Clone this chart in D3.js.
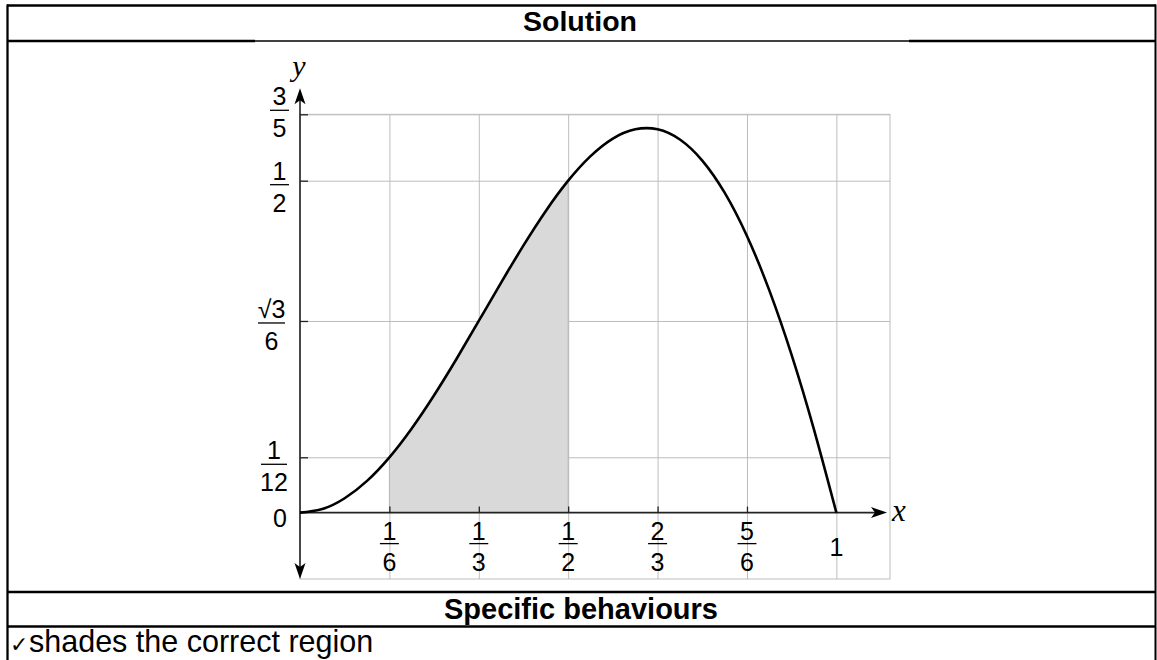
<!DOCTYPE html>
<html>
<head>
<meta charset="utf-8">
<script src="https://cdn.jsdelivr.net/npm/d3@7"></script>
<style>
  body { margin: 0; background: #fff; }
  text { font-family: "Liberation Sans", Arial, sans-serif; }
  text.var { font-family: "Liberation Serif", "Times New Roman", serif; font-style: italic; }
  text.tick { font-family: "DejaVu Sans", sans-serif; }
</style>
</head>
<body>
<div id="output"></div>
<script>
var w = 1157;
var h = 660;

// curve
var curveX = [0, 0.0417, 0.0833, 0.125, 0.1667, 0.2083, 0.25, 0.2917, 0.3333, 0.375, 0.4167, 0.4583, 0.5,
              0.5417, 0.5833, 0.625, 0.6667, 0.7083, 0.75, 0.7917, 0.8333, 0.875, 0.9167, 0.9583, 1];
var curveY = [0, 0.0054, 0.0216, 0.0478, 0.0833, 0.1268, 0.1768, 0.2314, 0.2887, 0.3465, 0.4025, 0.4544, 0.5,
              0.5370, 0.5635, 0.5774, 0.5774, 0.5620, 0.5303, 0.4819, 0.4167, 0.3348, 0.2373, 0.1251, 0];

var shadeFrom = 1 / 6;
var shadeTo = 1 / 2;

// ticks
var xTicks = [1/6, 1/3, 1/2, 2/3, 5/6, 1];
var xNum = ["1", "1", "1", "2", "5", "1"];
var xDen = ["6", "3", "2", "3", "6", ""];
var yTicks = [3/5, 1/2, Math.sqrt(3)/6, 1/12];
var yNum = ["3", "1", "\u221A3", "1"];
var yDen = ["5", "2", "6", "12"];

// little nudges for the stacked labels
var yBarShift = [-4, 4, 2, 7];
var yLabelCx = [279.5, 279.5, 271.5, 274];
var yBarWidth = [19, 19, 27, 26];

var svg = d3.select("#output")
            .append("svg")
            .attr("width", w)
            .attr("height", h);

svg.append("rect").attr("width", w).attr("height", h).attr("fill", "white");

var x = d3.scaleLinear().domain([0, 1.1]).range([300, 890]);
var y = d3.scaleLinear().domain([-0.1, 0.6]).range([579, 114.3]);

// grid
var gridColor = "#bdbdbd";
var grid = svg.append("g");

grid.append("g")
    .attr("transform", "translate(" + x(0) + ",0)")
    .call(d3.axisLeft(y).tickValues(yTicks).tickSize(-(x(1.1) - x(0))).tickFormat(""))
    .call(function(g) { g.select(".domain").remove(); })
    .selectAll("line").attr("stroke", gridColor);

grid.append("g")
    .attr("transform", "translate(0," + y(-0.1) + ")")
    .call(d3.axisBottom(x).tickValues(xTicks).tickSize(-(y(-0.1) - y(0.6))).tickFormat(""))
    .call(function(g) { g.select(".domain").remove(); })
    .selectAll("line").attr("stroke", gridColor);

grid.append("rect")
    .attr("x", x(0))
    .attr("y", y(0.6))
    .attr("width", x(1.1) - x(0))
    .attr("height", y(-0.1) - y(0.6))
    .attr("fill", "none")
    .attr("stroke", gridColor);

// shaded region
var pts = curveX.map(function(d, i) { return [d, curveY[i]]; });
var shadePts = pts.filter(function(d) { return d[0] >= shadeFrom - 0.001 && d[0] <= shadeTo + 0.001; });

var area = d3.area()
    .x(function(d) { return x(d[0]); })
    .y0(y(0))
    .y1(function(d) { return y(d[1]); })
    .curve(d3.curveNatural);

svg.append("path")
   .datum(shadePts)
   .attr("d", area)
   .attr("fill", "#d9d9d9")
   .attr("stroke", "#b5b5b5")
   .attr("stroke-width", 1);

// axes
var axisColor = "#222";

svg.append("g")
   .attr("transform", "translate(" + x(0) + ",0)")
   .call(d3.axisRight(y).tickValues(yTicks).tickSize(8).tickFormat(""))
   .call(function(g) { g.select(".domain").remove(); })
   .selectAll("line").attr("stroke", axisColor).attr("stroke-width", 1.3);

svg.append("g")
   .attr("transform", "translate(0," + y(0) + ")")
   .call(d3.axisTop(x).tickValues(xTicks.slice(0, 5)).tickSize(6).tickFormat(""))
   .call(function(g) { g.select(".domain").remove(); })
   .selectAll("line").attr("stroke", axisColor).attr("stroke-width", 1.3);

var yTop = y(0.6) - 26;
var yBot = y(-0.1);
var xEnd = x(1.1) - 3;

svg.append("line")
   .attr("x1", x(0)).attr("x2", x(0))
   .attr("y1", yTop + 6).attr("y2", yBot - 6)
   .attr("stroke", axisColor).attr("stroke-width", 1.6);

svg.append("line")
   .attr("x1", x(0)).attr("x2", xEnd - 6)
   .attr("y1", y(0)).attr("y2", y(0))
   .attr("stroke", axisColor).attr("stroke-width", 1.6);

var arrow = "M0,0 L-5.5,16 L0,12 L5.5,16 Z";
svg.append("path").attr("d", arrow).attr("fill", "#000")
   .attr("transform", "translate(" + x(0) + "," + yTop + ")");
svg.append("path").attr("d", arrow).attr("fill", "#000")
   .attr("transform", "translate(" + x(0) + "," + yBot + ") rotate(180)");
svg.append("path").attr("d", arrow).attr("fill", "#000")
   .attr("transform", "translate(" + xEnd + "," + y(0) + ") rotate(90)");

// curve
var line = d3.line()
    .x(function(d) { return x(d[0]); })
    .y(function(d) { return y(d[1]); })
    .curve(d3.curveNatural);

svg.append("path")
   .datum(pts)
   .attr("d", line)
   .attr("fill", "none")
   .attr("stroke", "#000")
   .attr("stroke-width", 2.6);

// y tick labels
var fs = 25;
var yl = svg.selectAll("g.ylab")
   .data(yTicks)
   .enter()
   .append("g")
   .attr("class", "ylab");

yl.append("text")
  .attr("x", function(d, i) { return yLabelCx[i]; })
  .attr("y", function(d, i) { return y(d) + yBarShift[i] - 5; })
  .attr("text-anchor", "middle")
  .attr("font-size", fs)
  .text(function(d, i) { return yNum[i]; });

yl.append("line")
  .attr("x1", function(d, i) { return yLabelCx[i] - yBarWidth[i] / 2; })
  .attr("x2", function(d, i) { return yLabelCx[i] + yBarWidth[i] / 2; })
  .attr("y1", function(d, i) { return y(d) + yBarShift[i]; })
  .attr("y2", function(d, i) { return y(d) + yBarShift[i]; })
  .attr("stroke", "#000")
  .attr("stroke-width", 1.3);

yl.append("text")
  .attr("x", function(d, i) { return yLabelCx[i]; })
  .attr("y", function(d, i) { return y(d) + yBarShift[i] + 27; })
  .attr("text-anchor", "middle")
  .attr("font-size", fs)
  .text(function(d, i) { return yDen[i]; });

svg.append("text")
   .attr("x", 280).attr("y", y(0) + 14)
   .attr("text-anchor", "middle")
   .attr("font-size", fs)
   .text("0");

// x tick labels
var barY = y(0) + 31;
var xl = svg.selectAll("g.xlab")
   .data(xTicks)
   .enter()
   .append("g")
   .attr("class", "xlab");

xl.append("text")
  .attr("x", function(d) { return x(d); })
  .attr("y", function(d, i) { return xDen[i] ? barY - 4 : barY + 12; })
  .attr("text-anchor", "middle")
  .attr("font-size", fs)
  .text(function(d, i) { return xNum[i]; });

xl.filter(function(d, i) { return xDen[i]; })
  .append("line")
  .attr("x1", function(d) { return x(d) - 9.5; })
  .attr("x2", function(d) { return x(d) + 9.5; })
  .attr("y1", barY).attr("y2", barY)
  .attr("stroke", "#000")
  .attr("stroke-width", 1.3);

xl.append("text")
  .attr("x", function(d) { return x(d); })
  .attr("y", barY + 27)
  .attr("text-anchor", "middle")
  .attr("font-size", fs)
  .text(function(d, i) { return xDen[i]; });

// axis names
svg.append("text")
   .attr("class", "var")
   .attr("x", 299).attr("y", 76)
   .attr("text-anchor", "middle")
   .attr("font-size", 30)
   .text("y");

svg.append("text")
   .attr("class", "var")
   .attr("x", 892).attr("y", y(0) + 8)
   .attr("font-size", 31)
   .text("x");

// table frame
function rule(x1, y1, x2, y2, sw) {
  svg.append("line")
     .attr("x1", x1).attr("y1", y1).attr("x2", x2).attr("y2", y2)
     .attr("stroke", "#000").attr("stroke-width", sw);
}
rule(7, 5.5, 1156, 5.5, 2.3);
rule(7.5, 4.5, 7.5, 660, 2.3);
rule(1155.5, 4.5, 1155.5, 660, 2);
rule(7, 41, 255, 41, 2.3);
rule(255, 41, 909, 41, 1.3);
rule(909, 41, 1156, 41, 2.3);
rule(7, 592, 1156, 592, 2.3);
rule(7, 626.5, 1156, 626.5, 2.3);

svg.append("text")
   .attr("x", 580).attr("y", 31)
   .attr("text-anchor", "middle")
   .attr("font-size", 28.5)
   .attr("font-weight", "bold")
   .text("Solution");

svg.append("text")
   .attr("x", 581).attr("y", 619)
   .attr("text-anchor", "middle")
   .attr("font-size", 29)
   .attr("font-weight", "bold")
   .text("Specific behaviours");

svg.append("text")
   .attr("class", "tick")
   .attr("x", 10).attr("y", 652)
   .attr("font-size", 22)
   .text("\u2713");

svg.append("text")
   .attr("x", 29).attr("y", 652)
   .attr("font-size", 30.5)
   .text("shades the correct region");
</script>
</body>
</html>
